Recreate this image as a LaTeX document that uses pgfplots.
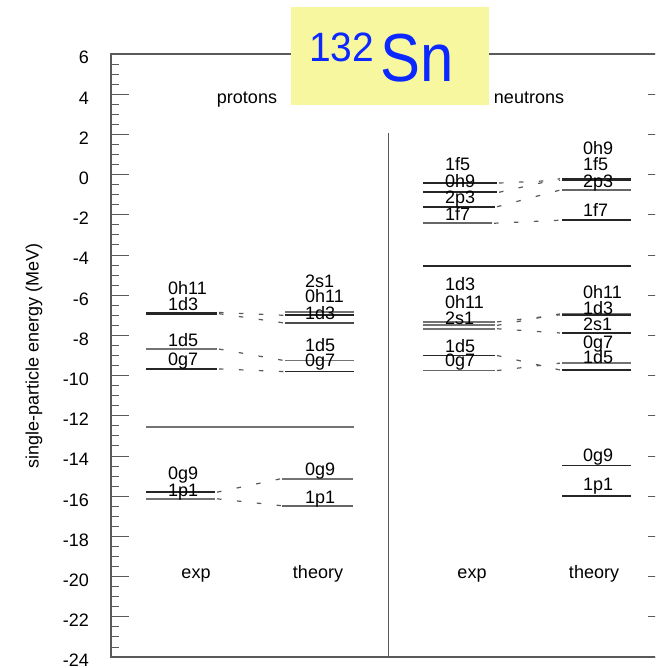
\documentclass[border=0pt]{standalone}
\usepackage{pgfplots}
\pgfplotsset{compat=1.18}
\usepackage{fontspec}
\setmainfont{Liberation Sans}
\newfontfamily\titlefont[FakeStretch=0.88]{Liberation Sans}
\newfontfamily\isofont[FakeStretch=0.95]{Liberation Sans}

\definecolor{boxyellow}{RGB}{247,247,160}
\definecolor{titleblue}{RGB}{10,40,255}
\definecolor{axisgray}{RGB}{90,90,90}

\tikzset{
  lev/.style={line width=1.8pt, black!85},
  conn/.style={black!65, line width=1.2pt, dash pattern=on 4.5pt off 15.5pt},
  lab/.style={anchor=west, inner sep=0pt, font=\fontsize{18}{20}\selectfont,
              text height=12.9pt, text depth=0pt},
}

% level line: [colour]{x from}{x to}{energy}
\newcommand{\lvl}[4][black!85]{\addplot[lev,#1] coordinates {(#2,#4) (#3,#4)};}
% dashed link between an experimental and a calculated level
\newcommand{\conn}[4]{\addplot[conn] coordinates {(#1,#2) (#3,#4)};}
% orbital label
\newcommand{\lab}[3]{\node[lab] at (axis cs:#1,#2) {#3};}

\begin{document}
\begin{tikzpicture}[x=1pt,y=1pt]
\begin{scope}
\clip (0,0) rectangle (655,668);
\begin{axis}[
  at={(111pt,11pt)}, anchor=south west, scale only axis,
  width=555pt, height=603pt,
  xmin=111, xmax=666, ymin=-24, ymax=6,
  xtick=\empty,
  ytick={-24,-22,...,6},
  yticklabels={-24,-22,-20,-18,-16,-14,-12,-10,-8,-6,-4,-2,0,2,4,6},
  minor y tick num=3,
  major tick length=18pt, minor tick length=8pt,
  tick align=inside,
  every tick/.style={axisgray, line width=0.9pt},
  axis line style={axisgray, line width=1.2pt},
  yticklabel style={font=\fontsize{18}{20}\selectfont, anchor=east, inner sep=0pt,
                    xshift=-22pt, yshift=-3.5pt, text height=12.9pt, text depth=0pt},
  no markers,
]
% ---------------- protons ----------------
% experiment
\lvl{146}{217}{-6.86}
\lvl{146}{217}{-6.92}
\lvl[black!55]{146}{217}{-8.68}
\lvl{146}{217}{-9.67}
\lvl{146}{215}{-15.8}
\lvl[black!55]{146}{215}{-16.13}
% shell gap
\lvl[black!55]{146}{354}{-12.55}
% theory
\lvl[black!55]{285}{354}{-6.83}
\lvl{285}{354}{-7.0}
\lvl[black!70]{285}{354}{-7.38}
\lvl[black!55]{285}{354}{-9.25}
\lvl{285}{354}{-9.8}
\lvl[black!55]{282}{353}{-15.13}
\lvl[black!60]{282}{353}{-16.47}
% links
\conn{219}{-6.86}{284}{-7.0}
\conn{219}{-6.92}{284}{-7.38}
\conn{219}{-8.68}{284}{-9.25}
\conn{219}{-9.67}{284}{-9.8}
\conn{217}{-15.8}{281}{-15.13}
\conn{217}{-16.13}{281}{-16.47}
% labels
\lab{168}{-5.62}{0h11}
\lab{168}{-6.42}{1d3}
\lab{168}{-8.21}{1d5}
\lab{168}{-9.20}{0g7}
\lab{168}{-14.83}{0g9}
\lab{168}{-15.67}{1p1}
\lab{305}{-5.32}{2s1}
\lab{305}{-6.02}{0h11}
\lab{305}{-6.87}{1d3}
\lab{305}{-8.46}{1d5}
\lab{305}{-9.25}{0g7}
\lab{305}{-14.63}{0g9}
\lab{305}{-16.02}{1p1}

% ---------------- neutrons ----------------
% experiment
\lvl{423}{497}{-0.42}
\lvl{423}{497}{-0.88}
\lvl{423}{495}{-1.6}
\lvl[black!60]{423}{492}{-2.42}
\lvl[black!55]{423}{495}{-7.33}
\lvl[black!55]{423}{495}{-7.5}
\lvl[black!55]{423}{495}{-7.67}
\lvl{423}{495}{-9.0}
\lvl[black!60]{423}{495}{-9.75}
% shell gap
\lvl{423}{631}{-4.55}
% theory
\lvl{562}{631}{-0.2}
\lvl{562}{631}{-0.28}
\lvl[black!60]{562}{631}{-0.77}
\lvl{562}{631}{-2.27}
\lvl[black!55]{562}{631}{-6.93}
\lvl{562}{631}{-6.98}
\lvl{562}{631}{-7.88}
\lvl[black!55]{562}{631}{-9.38}
\lvl{562}{631}{-9.72}
\lvl{562}{631}{-14.47}
\lvl{562}{631}{-16.0}
% links
\conn{499}{-0.42}{560}{-0.28}
\conn{499}{-0.88}{560}{-0.2}
\conn{497}{-1.6}{560}{-0.77}
\conn{494}{-2.42}{560}{-2.27}
\conn{497}{-7.33}{560}{-6.98}
\conn{497}{-7.5}{560}{-6.93}
\conn{497}{-7.67}{560}{-7.88}
\conn{497}{-9.0}{560}{-9.72}
\conn{497}{-9.75}{560}{-9.38}
% labels
\lab{445}{0.50}{1f5}
\lab{445}{-0.30}{0h9}
\lab{445}{-1.14}{2p3}
\lab{445}{-1.94}{1f7}
\lab{445}{-5.47}{1d3}
\lab{445}{-6.32}{0h11}
\lab{445}{-7.16}{2s1}
\lab{445}{-8.51}{1d5}
\lab{445}{-9.25}{0g7}
\lab{583}{1.34}{0h9}
\lab{583}{0.50}{1f5}
\lab{583}{-0.30}{2p3}
\lab{583}{-1.74}{1f7}
\lab{583}{-5.82}{0h11}
\lab{583}{-6.62}{1d3}
\lab{583}{-7.46}{2s1}
\lab{583}{-8.31}{0g7}
\lab{583}{-9.10}{1d5}
\lab{583}{-13.93}{0g9}
\lab{583}{-15.42}{1p1}

% separator between the two halves
\draw[axisgray, line width=1pt] (axis cs:388,2.05) -- (axis cs:388,-24);
\end{axis}
\end{scope}

% axis title and column headings
\node[rotate=90, font=\fontsize{18}{20}\selectfont] at (34,312) {single-particle energy (MeV)};
\node[anchor=base, font=\fontsize{18}{20}\selectfont] at (247,564) {protons};
\node[anchor=base, font=\fontsize{18}{20}\selectfont] at (529,564) {neutrons};
\node[anchor=base, font=\fontsize{18}{20}\selectfont] at (196,89) {exp};
\node[anchor=base, font=\fontsize{18}{20}\selectfont] at (318,89) {theory};
\node[anchor=base, font=\fontsize{18}{20}\selectfont] at (472,89) {exp};
\node[anchor=base, font=\fontsize{18}{20}\selectfont] at (594,89) {theory};

% nucleus label
\fill[boxyellow] (291,563) rectangle (489,661);
\node[anchor=base west, inner sep=0pt, text=titleblue, font={\isofont\fontsize{41}{45}\selectfont}] at (309,606) {132};
\node[anchor=base west, inner sep=0pt, text=titleblue, font={\titlefont\fontsize{68}{72}\selectfont}] at (380,586) {Sn};

\pgfresetboundingbox
\path[use as bounding box] (0,0) rectangle (655,668);
\end{tikzpicture}
\end{document}
